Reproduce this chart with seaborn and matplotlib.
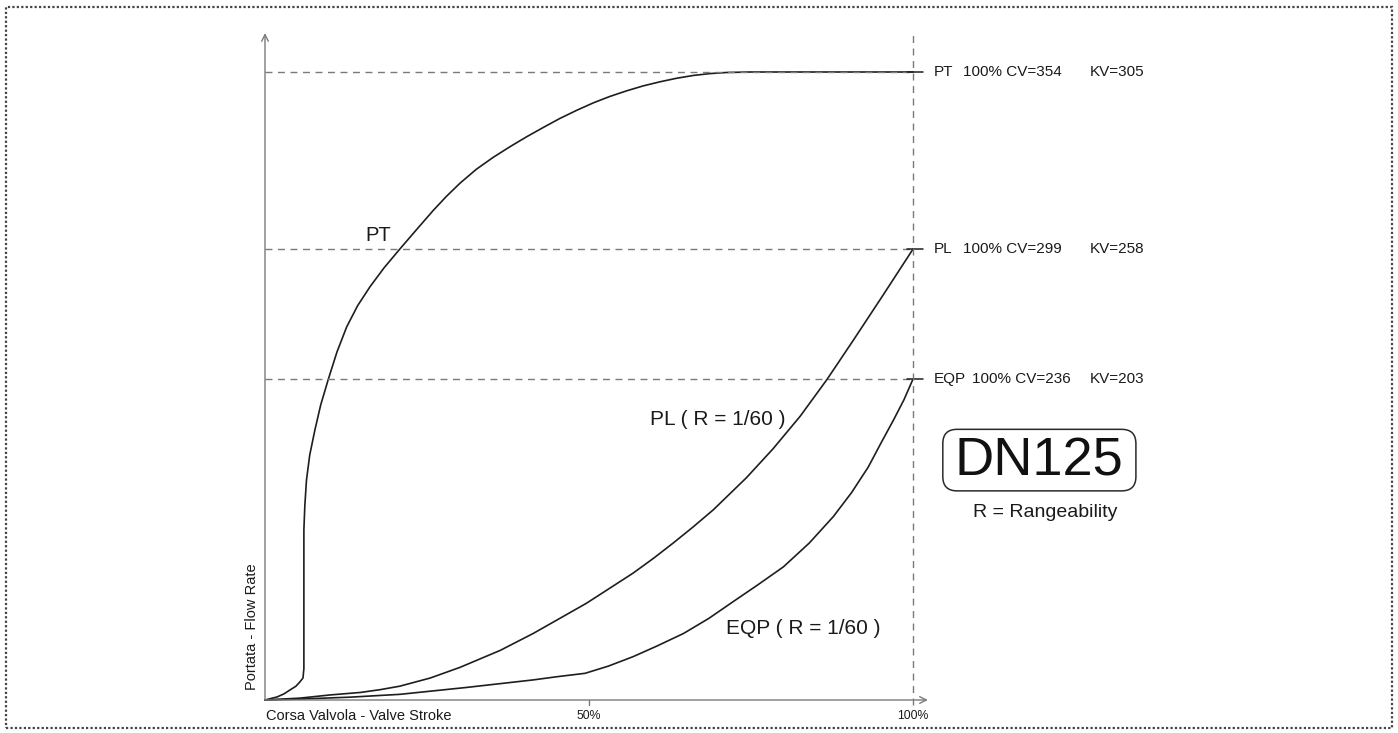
import matplotlib
matplotlib.use("Agg")
import matplotlib.pyplot as plt
from matplotlib.patches import FancyBboxPatch, Rectangle
import seaborn as sns
import pandas as pd

# ---- data (x = valve stroke %, y = flow as % of PT full-scale height) ----
pt_x = [0, 1.85, 2.9, 3.86, 4.78, 5.4, 5.86, 6.0, 6.0, 6.15, 6.4, 6.9, 7.7, 8.6, 9.77,
        11.1, 12.6, 14.3, 16.2, 18.4, 20.8, 23.3, 26.0, 28.0, 30.1, 32.6,
        35.2, 37.8, 40.4, 43.0, 45.5, 48.1, 50.7, 53.2, 55.8, 58.4, 61.0, 63.5, 66.1,
        68.7, 71.2, 74.8, 100]
pt_y = [0, 0.48, 0.96, 1.6, 2.2, 2.9, 3.5, 5.0, 27.1, 31.0, 35.0, 39.0, 43.0, 47.0, 51.07,
        55.4, 59.4, 62.8, 65.8, 68.85, 71.8, 74.8, 78.0, 80.2, 82.3, 84.5,
        86.4, 88.1, 89.7, 91.2, 92.6, 93.9, 95.1, 96.1, 97.0, 97.8, 98.45, 99.0, 99.45,
        99.75, 99.92, 100, 100]

pl_x = [0, 5.4, 10.0, 14.7, 17.8, 20.8, 25.5, 30.1, 36.3, 41.4, 45.5, 49.6, 53.2, 56.8,
        60.0, 63.0, 66.0, 69.2, 74.3, 78.4, 82.6, 86.7, 90.8, 95.4, 100]
pl_y = [0, 0.3, 0.8, 1.2, 1.65, 2.2, 3.5, 5.2, 7.9, 10.6, 13.0, 15.4, 17.8, 20.2,
        22.6, 25.0, 27.5, 30.3, 35.4, 40.0, 45.2, 51.0, 57.3, 64.5, 71.8]

eqp_x = [0, 5.4, 13.1, 20.8, 31.1, 41.4, 45.0, 49.4, 53.0, 56.8, 60.5, 64.6, 68.5, 72.3,
         76.0, 80.0, 84.0, 87.7, 90.5, 93.1, 95.0, 97.0, 98.6, 100]
eqp_y = [0, 0.15, 0.45, 0.9, 2.0, 3.2, 3.7, 4.25, 5.4, 6.9, 8.6, 10.6, 13.0, 15.7,
         18.3, 21.2, 25.0, 29.2, 33.0, 37.1, 40.8, 44.6, 47.8, 51.1]

series_names = ["PT", "PL", "EQP"]
levels = [100, 71.8, 51.1]
cv_values = [354, 299, 236]
kv_values = [305, 258, 203]
curve_labels = ["PT", "PL ( R = 1/60 )", "EQP ( R = 1/60 )"]
x_tick_labels = ["50%", "100%"]
x_tick_pos = [50, 100]

sns.set_theme(style="white")
plt.rcParams["font.family"] = ["Liberation Sans", "DejaVu Sans"]

W, H = 1398, 733
fig = plt.figure(figsize=(W / 100, H / 100), dpi=100)
ax = fig.add_axes([265 / W, 33 / H, 648 / W, 628 / H])
ax.set_xlim(0, 100)
ax.set_ylim(0, 100)
ax.axis("off")

df = pd.concat([
    pd.DataFrame({"x": pt_x, "y": pt_y, "s": "PT", "o": range(len(pt_x))}),
    pd.DataFrame({"x": pl_x, "y": pl_y, "s": "PL", "o": range(len(pl_x))}),
    pd.DataFrame({"x": eqp_x, "y": eqp_y, "s": "EQP", "o": range(len(eqp_x))}),
])
for name in series_names:
    sub = df[df.s == name]
    sns.lineplot(data=sub, x="x", y="y", sort=False, estimator=None, ax=ax,
                 color="#1e1e1e", lw=1.2, legend=False, clip_on=False,
                 solid_joinstyle="round", solid_capstyle="round")

gray = "#7a7a7a"
# dashed reference lines
for lv in levels:
    ax.plot([0, 100], [lv, lv], ls=(0, (5, 4)), color=gray, lw=1.0, clip_on=False)
    ax.plot([99.0, 101.5], [lv, lv], color="#1e1e1e", lw=1.1, clip_on=False)
ax.plot([100, 100], [-0.8, 105.9], ls=(0, (5, 4)), color=gray, lw=1.0, clip_on=False)

# axes arrows
ax.annotate("", xy=(0, 106.2), xytext=(0, 0),
            arrowprops=dict(arrowstyle="->", color=gray, lw=1.0, shrinkA=0, shrinkB=0,
                            mutation_scale=12), annotation_clip=False)
ax.annotate("", xy=(102.3, 0), xytext=(0, 0),
            arrowprops=dict(arrowstyle="->", color=gray, lw=1.0, shrinkA=0, shrinkB=0,
                            mutation_scale=12), annotation_clip=False)
ax.plot([50, 50], [0, -0.8], color=gray, lw=1.0, clip_on=False)

# axis labels and ticks
ax.text(0.1, -2.6, "Corsa Valvola - Valve Stroke", fontsize=10.5, ha="left", va="center",
        color="#1a1a1a")
for p, lab in zip(x_tick_pos, x_tick_labels):
    ax.text(p, -2.6, lab, fontsize=8.8, ha="center", va="center", color="#1a1a1a")
ax.text(-2.0, 1.6, "Portata - Flow Rate", fontsize=10.5, rotation=90, ha="center",
        va="bottom", color="#1a1a1a")

# curve labels
ax.text(17.5, 74.0, curve_labels[0], fontsize=14.5, ha="center", va="center", color="#1a1a1a")
ax.text(69.8, 44.6, curve_labels[1], fontsize=15, ha="center", va="center", color="#1a1a1a")
ax.text(83.1, 11.4, curve_labels[2], fontsize=15, ha="center", va="center", color="#1a1a1a")

# right side labels
mid_x = [107.7, 107.7, 109.1]
for name, lv, cv, kv, mx in zip(series_names, levels, cv_values, kv_values, mid_x):
    ax.text(103.2, lv, name, fontsize=11, ha="left", va="center", color="#1a1a1a")
    ax.text(mx, lv, f"100% CV={cv}", fontsize=11, ha="left", va="center", color="#1a1a1a")
    ax.text(127.2, lv, f"KV={kv}", fontsize=11, ha="left", va="center", color="#1a1a1a")

# DN125 box
box = FancyBboxPatch((104.6, 33.3), 29.8, 9.8,
                     boxstyle="round,pad=0,rounding_size=2.2",
                     mutation_aspect=6.48 / 6.28,
                     fc="white", ec="#2a2a2a", lw=1.1, clip_on=False, transform=ax.transData)
ax.add_patch(box)
ax.text(119.5, 38.0, "DN125", fontsize=39, ha="center", va="center", color="#111111")
ax.text(120.4, 29.9, "R = Rangeability", fontsize=14, ha="center", va="center", color="#1a1a1a")

# dotted frame around figure
frame = Rectangle((6 / W, 5 / H), (1392 - 6) / W, (727 - 6) / H, transform=fig.transFigure,
                  fill=False, ec="#444444", lw=1.6, ls=(0, (1, 1)))
fig.add_artist(frame)

fig.savefig("out.png", dpi=100)
